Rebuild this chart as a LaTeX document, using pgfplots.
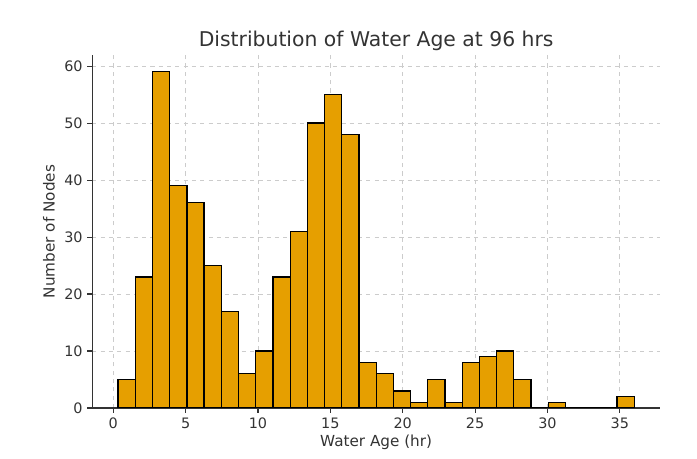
\documentclass[border=0pt]{standalone}
\usepackage{pgfplots}
\pgfplotsset{compat=1.18}
\usepackage{fontspec}
\setmainfont{DejaVu Sans}
\definecolor{barfill}{HTML}{E69F00}
\definecolor{txt}{HTML}{333333}
\definecolor{gridc}{HTML}{CCCCCC}

\begin{document}
\begin{tikzpicture}
% page size: 697x459 px at 0.72bp per px
\useasboundingbox (0,0) rectangle (501.84bp,330.48bp);
\begin{axis}[
  at={(66.46bp,36.72bp)}, anchor=south west,
  scale only axis, width=408.74bp, height=254.16bp,
  xmin=-1.45, xmax=37.78, ymin=0, ymax=61.95,
  axis lines*=left,
  axis line style={-, color=txt, line width=0.8pt},
  xtick={0,5,...,35}, ytick={0,10,...,60},
  tick align=outside, major tick length=3.5pt,
  tick style={color=txt, line width=0.8pt},
  grid=major, grid style={dashed, gridc, line width=0.5pt},
  ticklabel style={font=\fontsize{10.4}{12}\selectfont, color=txt},
  /pgf/number format/assume math mode=true,
  xlabel={Water Age (hr)}, ylabel={Number of Nodes},
  label style={font=\fontsize{11}{13}\selectfont, color=txt},
  xlabel style={yshift=2pt},
  title={Distribution of Water Age at 96 hrs},
  title style={font=\fontsize{14.7}{17}\selectfont, color=txt, yshift=-6.5pt},
]
\addplot[ybar interval, fill=barfill, draw=black, line width=0.9pt] coordinates {
  (0.330,5) (1.519,23) (2.708,59) (3.897,39) (5.086,36) (6.275,25)
  (7.464,17) (8.653,6) (9.842,10) (11.031,23) (12.220,31) (13.409,50)
  (14.598,55) (15.787,48) (16.976,8) (18.165,6) (19.354,3) (20.543,1)
  (21.732,5) (22.921,1) (24.110,8) (25.299,9) (26.488,10) (27.677,5)
  (28.866,0) (30.055,1) (31.244,0) (32.433,0) (33.622,0) (34.811,2)
  (36.000,0)
};
\end{axis}
\end{tikzpicture}
\end{document}
